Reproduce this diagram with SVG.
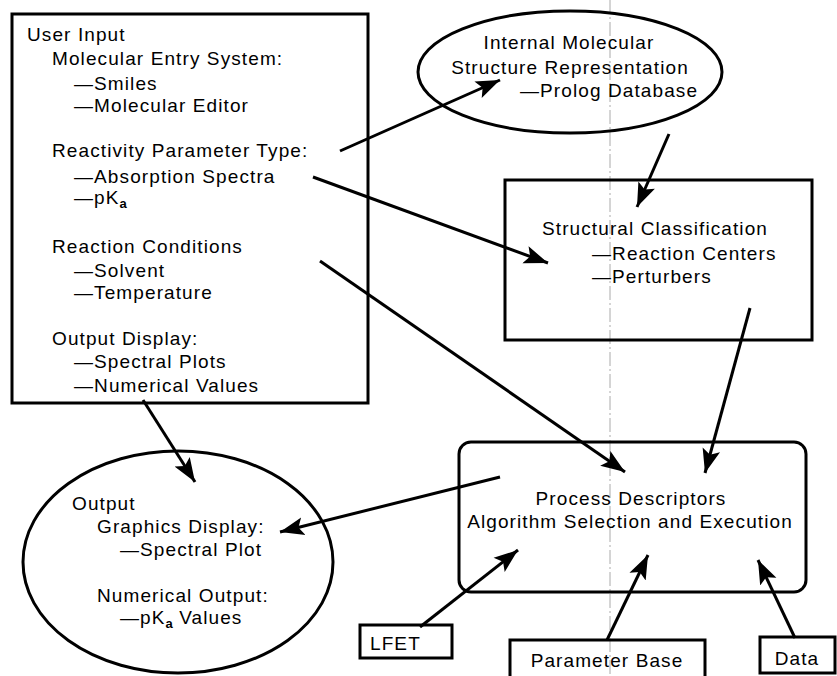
<svg xmlns="http://www.w3.org/2000/svg" width="837" height="676" viewBox="0 0 837 676">
<defs>
<marker id="ah" markerUnits="userSpaceOnUse" markerWidth="26" markerHeight="20" refX="24" refY="10" orient="auto">
<path d="M0,1 L24,10 L0,19 L5,10 Z" fill="#000"/>
</marker>
<style>
text{font-family:"Liberation Sans",Arial,sans-serif;font-size:19px;letter-spacing:1.1px;fill:#000}
.b{fill:none;stroke:#000;stroke-width:3}
.c{fill:none;stroke:#000;stroke-width:3;marker-end:url(#ah)}
.m{text-anchor:middle}
.s{font-size:13px;font-weight:bold;letter-spacing:0}
</style>
</defs>
<rect width="837" height="676" fill="#fff"/>
<line x1="610" y1="0" x2="610" y2="676" stroke="#888" stroke-width="1" stroke-dasharray="14,3,2,3" opacity="0.7"/>
<g id="user-input">
<rect class="b" x="12" y="14" width="356" height="389"/>
<text x="27" y="41">User Input</text>
<text x="52" y="65">Molecular Entry System:</text>
<text x="74" y="90">—Smiles</text>
<text x="74" y="112">—Molecular Editor</text>
<text x="52" y="157">Reactivity Parameter Type:</text>
<text x="74" y="183">—Absorption Spectra</text>
<text x="74" y="204">—pK<tspan class="s" dy="4">a</tspan></text>
<text x="52" y="253">Reaction Conditions</text>
<text x="74" y="277">—Solvent</text>
<text x="74" y="299">—Temperature</text>
<text x="52" y="345">Output Display:</text>
<text x="74" y="368">—Spectral Plots</text>
<text x="74" y="392">—Numerical Values</text>
</g>
<g id="internal-structure">
<ellipse class="b" cx="570" cy="72" rx="152" ry="61"/>
<text class="m" x="569" y="49">Internal Molecular</text>
<text class="m" x="570" y="74">Structure Representation</text>
<text x="520" y="97">—Prolog Database</text>
</g>
<g id="structural-classification">
<rect class="b" x="505" y="180" width="307" height="160"/>
<text x="542" y="235">Structural Classification</text>
<text x="592" y="260">—Reaction Centers</text>
<text x="592" y="283">—Perturbers</text>
</g>
<g id="process-descriptors">
<rect class="b" x="459" y="442" width="347" height="150" rx="12"/>
<text class="m" x="631" y="505">Process Descriptors</text>
<text class="m" x="630" y="528">Algorithm Selection and Execution</text>
</g>
<g id="output">
<ellipse class="b" cx="178" cy="562" rx="155" ry="111"/>
<text x="72" y="510">Output</text>
<text x="97" y="533">Graphics Display:</text>
<text x="120" y="556">—Spectral Plot</text>
<text x="97" y="602">Numerical Output:</text>
<text x="120" y="624">—pK<tspan class="s" dy="4">a</tspan><tspan dy="-4"> Values</tspan></text>
</g>
<g id="lfet">
<rect class="b" x="360" y="625" width="92" height="33"/>
<text x="370" y="650">LFET</text>
</g>
<g id="parameter-base">
<rect class="b" x="510" y="640" width="195" height="40"/>
<text class="m" x="607" y="667">Parameter Base</text>
</g>
<g id="data">
<rect class="b" x="760" y="637" width="75" height="36"/>
<text class="m" x="797" y="665">Data</text>
</g>
<g id="connectors">
<line class="c" x1="340" y1="151" x2="500" y2="80"/>
<line class="c" x1="669" y1="134" x2="637" y2="207"/>
<line class="c" x1="313" y1="177" x2="548" y2="263"/>
<line class="c" x1="320" y1="261" x2="625" y2="472"/>
<line class="c" x1="750" y1="308" x2="705" y2="473"/>
<line class="c" x1="500" y1="477" x2="280" y2="532"/>
<line class="c" x1="143" y1="400" x2="195" y2="482"/>
<line class="c" x1="420" y1="627" x2="518" y2="550"/>
<line class="c" x1="607" y1="640" x2="648" y2="555"/>
<line class="c" x1="795" y1="638" x2="758" y2="560"/>
</g>
</svg>
